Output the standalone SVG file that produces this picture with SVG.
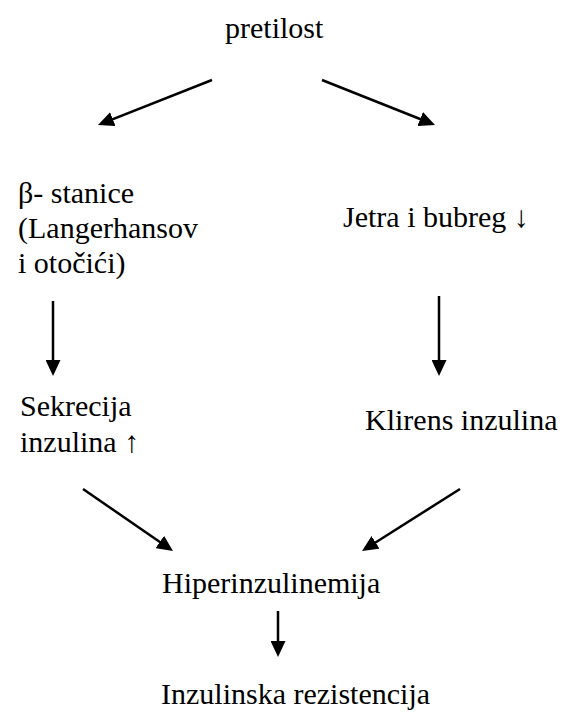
<svg xmlns="http://www.w3.org/2000/svg" width="569" height="716" viewBox="0 0 569 716" font-family="Liberation Serif">
<defs>
<marker id="ah" viewBox="0 0 16 15" refX="8" refY="7.5" markerWidth="16" markerHeight="15" orient="auto" markerUnits="userSpaceOnUse">
<path d="M0,0 L16,7.5 L0,15 z" fill="#000"/>
</marker>
</defs>
<rect width="569" height="716" fill="#fff"/>
<g id="n-pretilost"><text font-family="Liberation Serif" font-size="30" x="225" y="38">pretilost</text></g>
<g id="n-beta"><text font-family="Liberation Serif" font-size="30" x="18" y="203">&#946;- stanice</text><text font-family="Liberation Serif" font-size="30" x="18" y="238">(Langerhansov</text><text font-family="Liberation Serif" font-size="30" x="18" y="273">i oto&#269;i&#263;i)</text></g>
<g id="n-jetra"><text font-family="Liberation Serif" font-size="30" x="343" y="227">Jetra i bubreg &#8595;</text></g>
<g id="n-sekrecija"><text font-family="Liberation Serif" font-size="30" x="20" y="416">Sekrecija</text><text font-family="Liberation Serif" font-size="30" x="20" y="452">inzulina &#8593;</text></g>
<g id="n-klirens"><text font-family="Liberation Serif" font-size="30" x="365" y="430">Klirens inzulina</text></g>
<g id="n-hiper"><text font-family="Liberation Serif" font-size="30" x="162" y="593">Hiperinzulinemija</text></g>
<g id="n-rez"><text font-family="Liberation Serif" font-size="30" x="161" y="704">Inzulinska rezistencija</text></g>
<g id="connectors" stroke="#000" stroke-width="2.5" marker-end="url(#ah)">
<line x1="212" y1="80" x2="105.4" y2="122.1"/>
<line x1="322" y1="80" x2="427.6" y2="122"/>
<line x1="53" y1="301" x2="53" y2="368"/>
<line x1="439" y1="296" x2="439" y2="368"/>
<line x1="83" y1="489" x2="166.4" y2="546.5"/>
<line x1="460" y1="489" x2="368.8" y2="546.7"/>
<line x1="278" y1="611" x2="278" y2="649"/>
</g>
</svg>
